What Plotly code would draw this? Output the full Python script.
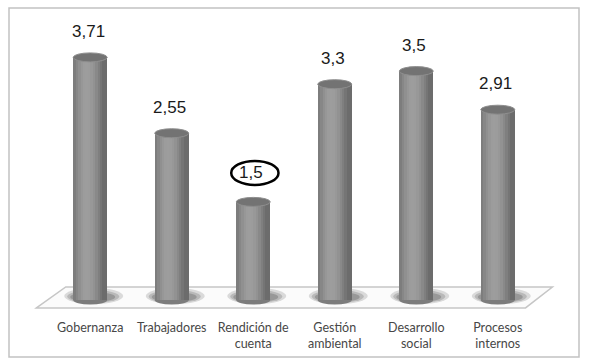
import plotly.graph_objects as go
import math

categories = ["Gobernanza", "Trabajadores", "Rendición de<br>cuenta", "Gestión<br>ambiental",
              "Desarrollo<br>social", "Procesos<br>internos"]
values = [3.71, 2.55, 1.5, 3.3, 3.5, 2.91]
value_labels = ["3,71", "2,55", "1,5", "3,3", "3,5", "2,91"]
highlight_index = 2

W = 589
H = 363
ML, MR, MT, MB = 25, 26, 15, 50
XR = [-0.8, 5.8]
YR = [-0.199, 4.358]
pw = W - ML - MR
ph = H - MT - MB
px_per_y = ph / (YR[1] - YR[0])
px_per_x = pw / (XR[1] - XR[0])

xpos = list(range(len(categories)))
BW = 0.417  # cylinder width in category units
NS = 14

fig = go.Figure()

# striped bars to emulate cylinder shading
for k in range(NS):
    t0 = k / NS
    t1 = (k + 1) / NS
    tc = (t0 + t1) / 2
    s = math.cos((tc - 0.40) * math.pi * 1.0)
    s = max(0.0, s)
    g = int(108 + 50 * s ** 1.2)
    col = f"rgb({g},{g},{g})"
    fig.add_trace(go.Bar(
        x=xpos, y=values, base=0,
        width=BW / NS * 1.08,
        offset=-BW / 2 + t0 * BW,
        marker=dict(color=col, line=dict(width=0)),
        hoverinfo="skip", showlegend=False,
    ))

shapes = []

def px_to_paper_x(px):
    return (px - ML) / pw

def px_to_paper_y(py):
    return (H - MB - py) / ph

# outer frame
shapes.append(dict(type="rect", xref="paper", yref="paper",
                   x0=px_to_paper_x(9), x1=px_to_paper_x(579),
                   y0=px_to_paper_y(357), y1=px_to_paper_y(8),
                   line=dict(color="#c2c2c2", width=1.5), fillcolor="rgba(0,0,0,0)",
                   layer="below"))

# floor parallelogram
shapes.append(dict(type="path", xref="x", yref="y",
                   path="M -0.66,-0.122 L -0.30,0.199 L 5.67,0.199 L 5.34,-0.122 Z",
                   line=dict(color="#c6c6c6", width=1.5), fillcolor="#fbfbfb",
                   layer="below"))

hh = 4.5 / px_per_y
for i, v in zip(xpos, values):
    for (l, r, b, t, a) in [(9, 16, 4, 12, 0.18), (6, 12, 3, 10, 0.22), (3, 8, 2, 8, 0.28)]:
        shapes.append(dict(type="circle", xref="x", yref="y",
                           x0=i - BW / 2 - l / px_per_x, x1=i + BW / 2 + r / px_per_x,
                           y0=-b / px_per_y, y1=t / px_per_y,
                           fillcolor=f"rgba(70,70,70,{a})", line=dict(width=0),
                           layer="below"))
    shapes.append(dict(type="circle", xref="x", yref="y",
                       x0=i - BW / 2, x1=i + BW / 2, y0=-hh, y1=hh,
                       fillcolor="#7c7c7c", line=dict(width=0), layer="below"))
    shapes.append(dict(type="circle", xref="x", yref="y",
                       x0=i - BW / 2, x1=i + BW / 2, y0=v - hh, y1=v + hh,
                       fillcolor="#737373", line=dict(color="#8e8e8e", width=1),
                       layer="above"))

annotations = []
for i, (v, lab) in enumerate(zip(values, value_labels)):
    a = dict(x=i, y=v, xref="x", yref="y", text=lab, showarrow=False,
             yshift=26, xshift=-2,
             font=dict(family="Liberation Sans, Arial", size=17, color="#1a1a1a"))
    if i == highlight_index:
        a["yshift"] = 29
    annotations.append(a)

hv = values[highlight_index]
cy = hv + 29 / px_per_y
shapes.append(dict(type="circle", xref="x", yref="y",
                   x0=highlight_index - 0.27, x1=highlight_index + 0.31,
                   y0=cy - 12 / px_per_y, y1=cy + 12 / px_per_y,
                   line=dict(color="#000000", width=2.5), fillcolor="rgba(0,0,0,0)",
                   layer="above"))

fig.update_layout(
    width=W, height=H,
    margin=dict(l=ML, r=MR, t=MT, b=MB),
    barmode="overlay", bargap=0,
    paper_bgcolor="white", plot_bgcolor="rgba(0,0,0,0)",
    shapes=shapes, annotations=annotations,
    showlegend=False,
    xaxis=dict(range=XR, tickvals=xpos, ticktext=categories, showgrid=False,
               zeroline=False, showline=False, ticks="", ticklabelstandoff=5,
               tickfont=dict(family="Lato, Open Sans", size=12.5, color="#474747"),
               fixedrange=True),
    yaxis=dict(range=YR, showgrid=False, zeroline=False, showline=False,
               showticklabels=False, fixedrange=True),
)

fig.write_html("out.html", config={"displayModeBar": False},
               post_script="document.body.style.margin='0';document.body.style.overflow='hidden';")
